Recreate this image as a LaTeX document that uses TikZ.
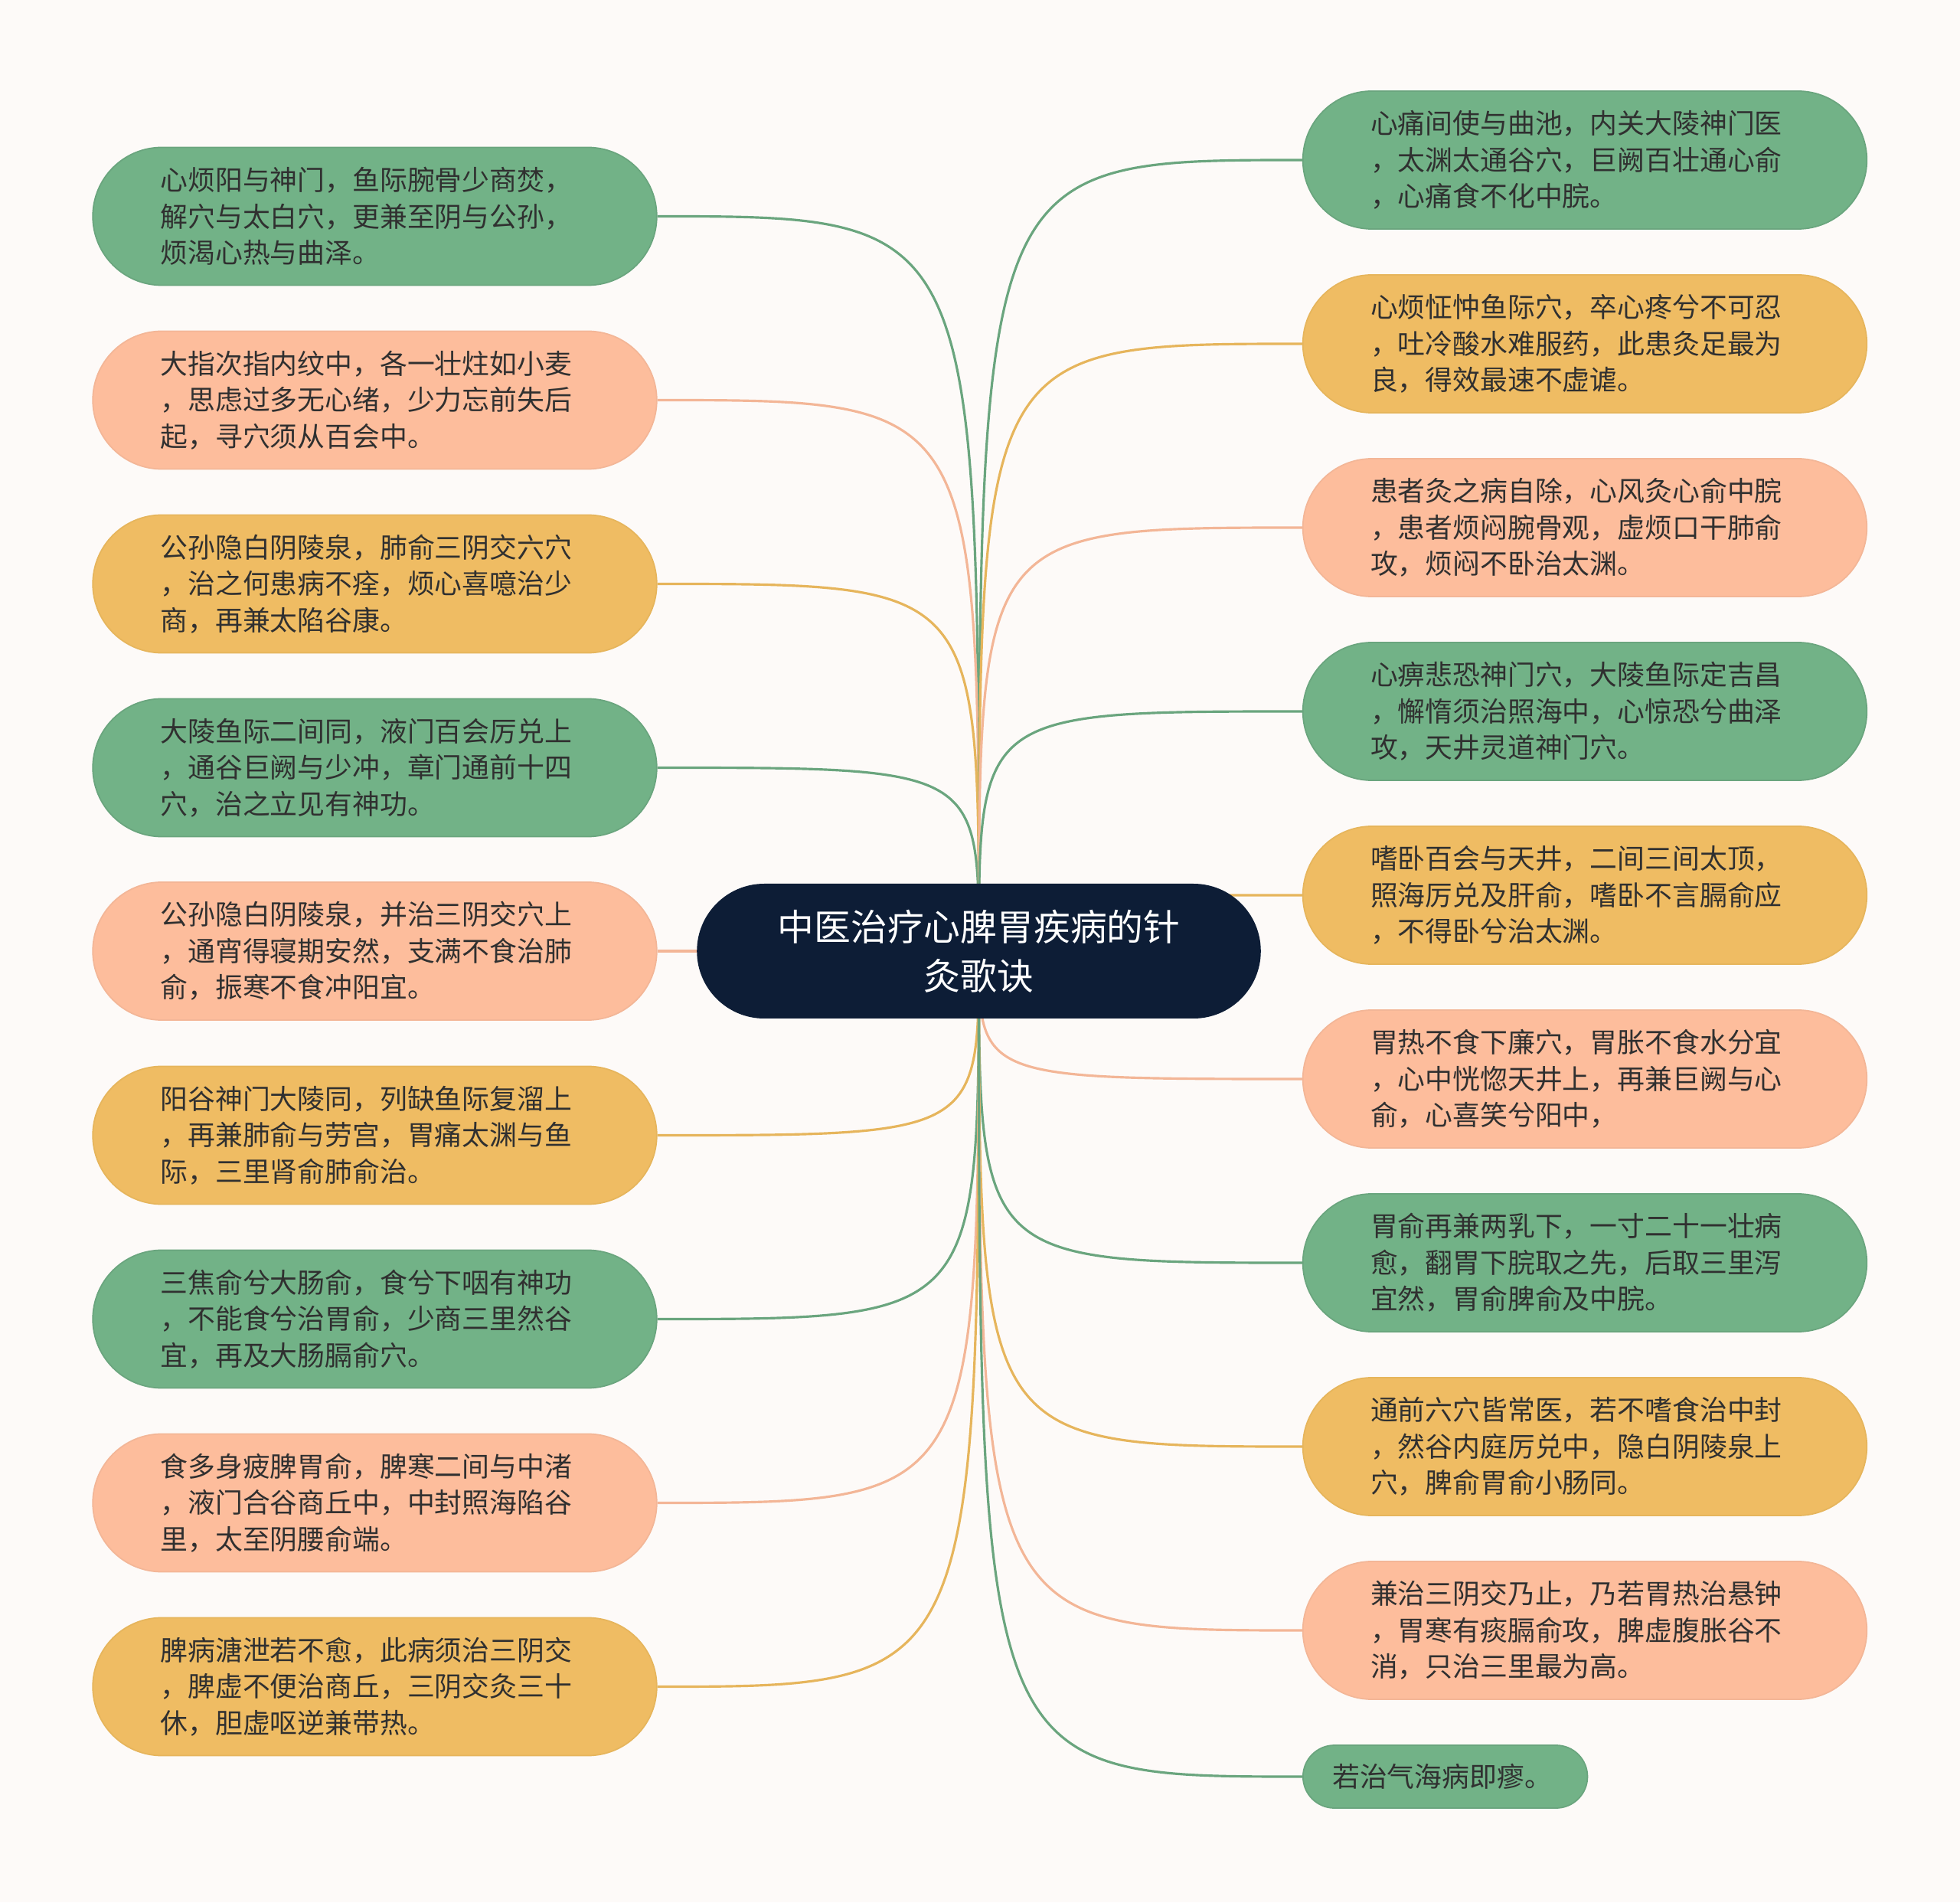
\documentclass[tikz,border=0pt]{standalone}
\usepackage{fontspec}
\newfontfamily\cjk{Noto Sans CJK SC}
\usetikzlibrary{shapes.misc}

\definecolor{paper}{HTML}{FDFAF8}
\definecolor{inkgrey}{HTML}{303030}
\definecolor{hubnavy}{HTML}{0D1D36}
\definecolor{leafgreen}{HTML}{72B287}
\definecolor{leafpeach}{HTML}{FDBD9C}
\definecolor{leafgold}{HTML}{EFBC63}
\definecolor{linkgreen}{HTML}{6AA57E}
\definecolor{linkpeach}{HTML}{F3B697}
\definecolor{linkgold}{HTML}{E6B55C}

\pgfdeclarelayer{paperlayer}
\pgfdeclarelayer{linklayer}
\pgfsetlayers{paperlayer,linklayer,main}

\begin{document}
\begin{tikzpicture}[
  leaf/.style={rounded rectangle, fill=leaf#1, draw=link#1, line width=0.5pt,
               minimum width=7.6cm, minimum height=1.8cm, text width=5.6cm,
               align=left, text=inkgrey,
               font=\cjk\fontsize{10.2pt}{13.5pt}\selectfont},
  hub/.style={rounded rectangle, fill=hubnavy, minimum width=7.6cm,
              minimum height=1.76cm, align=center, text=white,
              font=\cjk\fontsize{13.6pt}{18.2pt}\selectfont},
  link/.style={draw=link#1, line width=0.9pt},
]

\useasboundingbox (0,0) rectangle (25.6,24.84);
\begin{pgfonlayer}{paperlayer}
  \fill[paper] (0,0) rectangle (25.6,24.84);
\end{pgfonlayer}

\node[hub] (hub) at (12.785,12.42) {中医治疗心脾胃疾病的针\\灸歌诀};

% left column
\node[leaf=green] (l1) at (4.895,22.015) {心烦阳与神门，鱼际腕骨少商焚，\\解穴与太白穴，更兼至阴与公孙，\\烦渴心热与曲泽。};
\node[leaf=peach] (l2) at (4.895,19.615) {大指次指内纹中，各一壮炷如小麦\\，思虑过多无心绪，少力忘前失后\\起，寻穴须从百会中。};
\node[leaf=gold]  (l3) at (4.895,17.215) {公孙隐白阴陵泉，肺俞三阴交六穴\\，治之何患病不痊，烦心喜噫治少\\商，再兼太陷谷康。};
\node[leaf=green] (l4) at (4.895,14.815) {大陵鱼际二间同，液门百会厉兑上\\，通谷巨阙与少冲，章门通前十四\\穴，治之立见有神功。};
\node[leaf=peach] (l5) at (4.895,12.42) {公孙隐白阴陵泉，并治三阴交穴上\\，通宵得寝期安然，支满不食治肺\\俞，振寒不食冲阳宜。};
\node[leaf=gold]  (l6) at (4.895,10.015) {阳谷神门大陵同，列缺鱼际复溜上\\，再兼肺俞与劳宫，胃痛太渊与鱼\\际，三里肾俞肺俞治。};
\node[leaf=green] (l7) at (4.895,7.615) {三焦俞兮大肠俞，食兮下咽有神功\\，不能食兮治胃俞，少商三里然谷\\宜，再及大肠膈俞穴。};
\node[leaf=peach] (l8) at (4.895,5.215) {食多身疲脾胃俞，脾寒二间与中渚\\，液门合谷商丘中，中封照海陷谷\\里，太至阴腰俞端。};
\node[leaf=gold]  (l9) at (4.895,2.815) {脾病溏泄若不愈，此病须治三阴交\\，脾虚不便治商丘，三阴交灸三十\\休，胆虚呕逆兼带热。};

% right column
\node[leaf=green] (r1) at (20.70,22.75) {心痛间使与曲池，内关大陵神门医\\，太渊太通谷穴，巨阙百壮通心俞\\，心痛食不化中脘。};
\node[leaf=gold]  (r2) at (20.70,20.35) {心烦怔忡鱼际穴，卒心疼兮不可忍\\，吐冷酸水难服药，此患灸足最为\\良，得效最速不虚谑。};
\node[leaf=peach] (r3) at (20.70,17.95) {患者灸之病自除，心风灸心俞中脘\\，患者烦闷腕骨观，虚烦口干肺俞\\攻，烦闷不卧治太渊。};
\node[leaf=green] (r4) at (20.70,15.55) {心痹悲恐神门穴，大陵鱼际定吉昌\\，懈惰须治照海中，心惊恐兮曲泽\\攻，天井灵道神门穴。};
\node[leaf=gold]  (r5) at (20.70,13.15) {嗜卧百会与天井，二间三间太顶，\\照海厉兑及肝俞，嗜卧不言膈俞应\\，不得卧兮治太渊。};
\node[leaf=peach] (r6) at (20.70,10.75) {胃热不食下廉穴，胃胀不食水分宜\\，心中恍惚天井上，再兼巨阙与心\\俞，心喜笑兮阳中，};
\node[leaf=green] (r7) at (20.70,8.35) {胃俞再兼两乳下，一寸二十一壮病\\愈，翻胃下脘取之先，后取三里泻\\宜然，胃俞脾俞及中脘。};
\node[leaf=gold]  (r8) at (20.70,5.95) {通前六穴皆常医，若不嗜食治中封\\，然谷内庭厉兑中，隐白阴陵泉上\\穴，脾俞胃俞小肠同。};
\node[leaf=peach] (r9) at (20.70,3.55) {兼治三阴交乃止，乃若胃热治悬钟\\，胃寒有痰膈俞攻，脾虚腹胀谷不\\消，只治三里最为高。};
\node[leaf=green, minimum width=3.95cm, minimum height=0.82cm, text width=2.95cm,
      anchor=west] (r10) at (17.01,1.64) {若治气海病即瘳。};

% connectors, behind the boxes
\begin{pgfonlayer}{linklayer}
\draw[link=green] (hub.center) .. controls (hub.center |- l1.east) .. (l1.east);
\draw[link=peach] (hub.center) .. controls (hub.center |- l2.east) .. (l2.east);
\draw[link=gold]  (hub.center) .. controls (hub.center |- l3.east) .. (l3.east);
\draw[link=green] (hub.center) .. controls (hub.center |- l4.east) .. (l4.east);
\draw[link=peach] (hub.center) .. controls (hub.center |- l5.east) .. (l5.east);
\draw[link=gold]  (hub.center) .. controls (hub.center |- l6.east) .. (l6.east);
\draw[link=green] (hub.center) .. controls (hub.center |- l7.east) .. (l7.east);
\draw[link=peach] (hub.center) .. controls (hub.center |- l8.east) .. (l8.east);
\draw[link=gold]  (hub.center) .. controls (hub.center |- l9.east) .. (l9.east);
\draw[link=green] (hub.center) .. controls (hub.center |- r1.west) .. (r1.west);
\draw[link=gold]  (hub.center) .. controls (hub.center |- r2.west) .. (r2.west);
\draw[link=peach] (hub.center) .. controls (hub.center |- r3.west) .. (r3.west);
\draw[link=green] (hub.center) .. controls (hub.center |- r4.west) .. (r4.west);
\draw[link=gold]  (hub.center) .. controls (hub.center |- r5.west) .. (r5.west);
\draw[link=peach] (hub.center) .. controls (hub.center |- r6.west) .. (r6.west);
\draw[link=green] (hub.center) .. controls (hub.center |- r7.west) .. (r7.west);
\draw[link=gold]  (hub.center) .. controls (hub.center |- r8.west) .. (r8.west);
\draw[link=peach] (hub.center) .. controls (hub.center |- r9.west) .. (r9.west);
\draw[link=green] (hub.center) .. controls (hub.center |- r10.west) .. (r10.west);
\end{pgfonlayer}

\end{tikzpicture}
\end{document}
